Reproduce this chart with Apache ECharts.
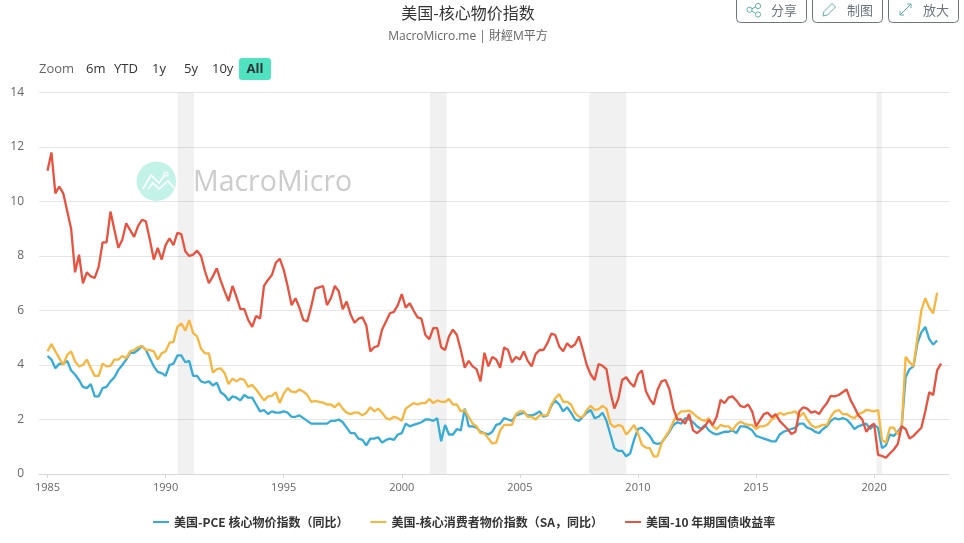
<!DOCTYPE html>
<html>
<head>
    <meta charset="utf-8">
    <title>美国-核心物价指数</title>
    <script src="https://cdn.jsdelivr.net/npm/echarts@6/dist/echarts.min.js"></script>
    <style>
        html, body { margin: 0; padding: 0; background: #fff; overflow: hidden; }
    </style>
</head>
<body>
    <div id="main" style="width: 964px;height:543px;"></div>
    <script type="text/javascript">
        // 每两个月一个点，从 1985-01 开始
        const startYear = 1985
        const stepMonths = 2

        const seriesNames = ['美国-PCE 核心物价指数（同比）', '美国-核心消费者物价指数（SA，同比）', '美国-10 年期国债收益率']
        const rangeLabels = ['Zoom', '6m', 'YTD', '1y', '5y', '10y', 'All']
        const yearTicks = [1985, 1990, 1995, 2000, 2005, 2010, 2015, 2020]
        const yTicks = [0, 2, 4, 6, 8, 10, 12, 14]

        // 衰退区间（年份小数）
        const recessions = [
            [1990.51, 1991.2],
            [2001.19, 2001.9],
            [2007.93, 2009.5],
            [2020.1, 2020.33]
        ]

        const pce = [
            4.33, 4.2, 3.88, 4.05, 4.04, 4.15,
            3.8, 3.65, 3.45, 3.2, 3.15, 3.3,
            2.85, 2.85, 3.15, 3.2, 3.4, 3.55,
            3.82, 4.0, 4.2, 4.45, 4.45, 4.55,
            4.7, 4.55, 4.25, 3.95, 3.75, 3.7,
            3.6, 4.0, 4.05, 4.35, 4.35, 4.1,
            4.15, 3.6, 3.6, 3.4, 3.35, 3.4,
            3.25, 3.35, 3.0, 2.9, 2.7, 2.85,
            2.8, 2.7, 2.9, 2.8, 2.8, 2.55,
            2.3, 2.35, 2.2, 2.3, 2.25, 2.25,
            2.3, 2.25, 2.1, 2.1, 2.15, 2.05,
            1.95, 1.85, 1.85, 1.85, 1.85, 1.85,
            1.95, 1.95, 2.0, 1.9, 1.7, 1.5,
            1.5, 1.3, 1.25, 1.05, 1.3, 1.3,
            1.35, 1.15, 1.25, 1.3, 1.25, 1.45,
            1.5, 1.85, 1.75, 1.8, 1.85, 1.9,
            2.0, 2.0, 1.95, 2.05, 1.2, 1.8,
            1.45, 1.45, 1.65, 1.6, 2.4, 1.75,
            1.75, 1.7, 1.55, 1.5, 1.45, 1.55,
            1.8, 1.85, 2.05, 2.0, 1.95, 2.15,
            2.2, 2.25, 2.15, 2.15, 2.2, 2.3,
            2.1, 2.15, 2.5, 2.7, 2.55, 2.3,
            2.45, 2.25, 2.0, 1.95, 2.1, 2.25,
            2.35, 2.05, 2.1, 2.25, 1.95, 1.45,
            0.95, 0.85, 0.85, 0.65, 0.75, 1.25,
            1.65, 1.7, 1.55, 1.4, 1.15, 1.1,
            1.15, 1.35, 1.55, 1.8, 1.9, 1.85,
            2.05, 2.0, 1.9, 1.75, 1.65, 1.8,
            1.6, 1.5, 1.45, 1.5, 1.55, 1.55,
            1.6, 1.5, 1.75, 1.75, 1.7, 1.6,
            1.4, 1.35, 1.3, 1.25, 1.2, 1.2,
            1.45, 1.55, 1.6, 1.65, 1.7, 1.85,
            1.85, 1.7, 1.65, 1.55, 1.5, 1.65,
            1.75, 1.95, 2.05, 2.0, 2.05, 2.0,
            1.85, 1.65, 1.75, 1.8, 1.85, 1.65,
            1.8, 1.7, 0.95, 1.05, 1.45, 1.4,
            1.55, 1.75, 3.55, 3.85, 3.95, 4.8,
            5.2, 5.4, 4.95, 4.75, 4.9
        ]

        const cpi = [
            4.5, 4.77, 4.5, 4.25, 4.0, 4.37,
            4.5, 4.13, 3.95, 4.0, 4.2, 3.88,
            3.6, 3.6, 4.05, 3.95, 3.97, 4.2,
            4.2, 4.33, 4.25, 4.5, 4.55, 4.65,
            4.7, 4.55, 4.55, 4.5, 4.2, 4.43,
            4.5, 4.82, 4.85, 5.4, 5.53, 5.26,
            5.65, 5.17, 5.05, 4.6, 4.43, 4.43,
            3.72, 3.85, 3.88, 3.7, 3.3, 3.5,
            3.4, 3.5, 3.45, 3.2, 3.27, 3.1,
            2.9, 2.7, 2.85, 2.87, 3.0, 2.6,
            2.95, 3.15, 3.02, 3.0, 3.1, 3.02,
            2.9, 2.65, 2.68, 2.65, 2.62, 2.55,
            2.55, 2.45, 2.6, 2.4, 2.25, 2.2,
            2.25, 2.25, 2.15, 2.25, 2.45, 2.3,
            2.4, 2.25, 2.05, 2.0, 2.1, 2.05,
            1.95, 2.4, 2.5, 2.6, 2.55, 2.6,
            2.6, 2.75, 2.6, 2.7, 2.65, 2.65,
            2.75, 2.55, 2.55, 2.3, 2.35, 2.1,
            1.85, 1.75, 1.5, 1.5, 1.3, 1.12,
            1.15, 1.6, 1.8, 1.8, 1.8, 2.2,
            2.3, 2.3, 2.1, 2.1, 2.0, 2.15,
            2.15, 2.15, 2.55, 2.78, 2.93, 2.65,
            2.65, 2.55, 2.25, 2.1, 2.1, 2.35,
            2.5, 2.35, 2.38, 2.5, 2.4, 1.85,
            1.72, 1.8, 1.75, 1.45, 1.6, 1.8,
            1.5, 1.07, 0.97, 0.95, 0.64, 0.66,
            1.13, 1.37, 1.6, 1.92, 2.17, 2.3,
            2.3, 2.33, 2.23, 2.1, 2.0, 1.95,
            2.05, 1.75, 1.65, 1.8, 1.75, 1.75,
            1.6, 1.8, 1.92, 1.85, 1.8, 1.8,
            1.65, 1.75, 1.75, 1.83, 2.0, 2.1,
            2.25, 2.17, 2.23, 2.25, 2.3, 2.1,
            2.25, 2.0, 1.8, 1.7, 1.75, 1.8,
            1.8, 2.1, 2.3, 2.35, 2.2, 2.2,
            2.1, 2.05, 2.2, 2.25, 2.35, 2.33,
            2.3, 2.35, 1.25, 1.15, 1.7, 1.7,
            1.45, 1.7, 4.3, 4.1, 3.95, 5.0,
            6.0, 6.45, 6.1, 5.9, 6.65
        ]

        const treasury = [
            11.13, 11.8, 10.3, 10.55, 10.3, 9.65,
            9.0, 7.4, 8.05, 7.0, 7.4, 7.25,
            7.2, 7.6, 8.5, 8.5, 9.63, 8.95,
            8.3, 8.6, 9.2, 8.95, 8.7, 9.1,
            9.33, 9.27, 8.6, 7.87, 8.3, 7.87,
            8.4, 8.65, 8.4, 8.85, 8.8, 8.17,
            8.0, 8.05, 8.2, 8.0, 7.45, 7.0,
            7.25, 7.55, 7.1, 6.7, 6.35, 6.9,
            6.5, 6.05, 6.05, 5.65, 5.4, 5.8,
            5.7, 6.9, 7.12, 7.3, 7.75, 7.9,
            7.5, 6.9, 6.2, 6.45, 6.1, 5.65,
            5.6, 6.15, 6.8, 6.85, 6.9, 6.2,
            6.45, 6.9, 6.7, 6.05, 6.33, 5.85,
            5.55, 5.7, 5.75, 5.45, 4.5, 4.65,
            4.7, 5.3, 5.6, 5.9, 5.95, 6.2,
            6.6, 6.1, 6.27, 6.0, 5.75, 5.7,
            5.1, 4.95, 5.35, 5.35, 4.65, 4.55,
            5.05, 5.3, 5.1, 4.55, 3.9, 4.15,
            3.95, 3.85, 3.4, 4.45, 3.95, 4.3,
            4.2, 3.9, 4.64, 4.55, 4.1, 4.3,
            4.2, 4.5, 4.15, 3.95, 4.4, 4.55,
            4.55, 4.8, 5.15, 5.1, 4.68, 4.5,
            4.8, 4.65, 4.75, 5.05, 4.55, 4.0,
            3.65, 3.45, 4.04, 3.97, 3.85, 3.0,
            2.4, 2.75, 3.45, 3.55, 3.35, 3.2,
            3.65, 3.8, 3.05, 2.75, 2.55, 3.1,
            3.4, 3.45, 3.1, 2.4, 2.0, 2.0,
            1.85, 2.2, 1.6, 1.5, 1.62, 1.75,
            1.98, 1.8, 2.1, 2.72, 2.6, 2.8,
            2.85, 2.7, 2.5, 2.45, 2.55, 2.3,
            1.75, 1.98, 2.2, 2.25, 2.08, 2.2,
            1.95, 1.8, 1.65, 1.47, 1.55, 2.3,
            2.45, 2.4, 2.25, 2.3, 2.2, 2.42,
            2.6, 2.87, 2.85, 2.9, 3.0, 3.1,
            2.72, 2.45, 2.15, 2.0, 1.55, 1.75,
            1.85, 0.7, 0.66, 0.6, 0.75, 0.9,
            1.1, 1.75, 1.65, 1.3, 1.4, 1.55,
            1.7, 2.3, 3.0, 2.9, 3.8, 4.05
        ]

        function toPairs(values) {
            return values.map(function (v, i) {
                return [startYear + i * stepMonths / 12, v]
            })
        }

        let myChart = echarts.init(document.getElementById('main'));

        const fontLatin = '"Open Sans", sans-serif'
        const fontCjk = '"Noto Sans CJK SC", sans-serif'

        // 顶部范围按钮的位置
        const rangeX = [39, 86, 114, 152, 184, 212, 255]
        const rangeGraphic = rangeLabels.map(function (t, i) {
            let isAll = t === 'All'
            return {
                type: 'text', x: rangeX[i], y: 69, z: 5,
                style: {
                    text: t,
                    fill: i === 0 ? '#666666' : '#333333',
                    font: (isAll ? 'bold ' : '') + '13px ' + fontLatin,
                    textAlign: isAll ? 'center' : 'left',
                    textVerticalAlign: 'middle'
                }
            }
        })

        function toolButton(x, w, label) {
            return [
                {
                    type: 'rect', z: 5,
                    shape: { x: x + 0.5, y: -6.5, width: w, height: 29, r: 4 },
                    style: { fill: '#fff', stroke: '#6c757d', lineWidth: 1 }
                },
                {
                    type: 'text', x: x + 35, y: 10, z: 6,
                    style: { text: label, fill: '#6c757d', font: '13px ' + fontCjk, textVerticalAlign: 'middle' }
                }
            ]
        }

        const iconColor = '#5fb3a8'
        const iconStyle = { stroke: iconColor, fill: 'none', lineWidth: 1 }

        let option = {
            animation: false,
            color: ['#35acd8', '#f7b63e', '#e8523e'],
            title: {
                text: '美国-核心物价指数',
                subtext: 'MacroMicro.me | 財經M平方',
                left: 463,
                textAlign: 'center',
                top: 0,
                itemGap: 10,
                textStyle: { fontSize: 16, fontWeight: 'normal', color: '#333333', fontFamily: fontCjk },
                subtextStyle: { fontSize: 12, color: '#666666', fontFamily: '"Open Sans", "Noto Sans CJK TC", sans-serif' }
            },
            legend: {
                left: 148,
                top: 511,
                itemWidth: 16,
                itemHeight: 2,
                itemGap: 22,
                icon: 'rect',
                textStyle: { fontSize: 12, fontWeight: 'bold', color: '#333333', fontFamily: fontCjk },
                data: seriesNames
            },
            grid: { left: 39, right: 15, top: 92.5, bottom: 69, outerBoundsMode: 'none' },
            xAxis: {
                type: 'value',
                min: 1984.64,
                max: 2023.17,
                splitLine: { show: false },
                axisLine: { onZero: false, lineStyle: { color: '#d8d8d8', width: 1 } },
                axisTick: {
                    show: true, length: 4, lineStyle: { color: '#d8d8d8' },
                    customValues: yearTicks
                },
                axisLabel: {
                    color: '#666666', fontSize: 11, fontFamily: fontLatin, margin: 8,
                    customValues: yearTicks,
                    formatter: function (v) { return String(v) }
                }
            },
            yAxis: {
                type: 'value',
                min: yTicks[0],
                max: yTicks[yTicks.length - 1],
                interval: 2,
                name: 'Percent',
                nameLocation: 'middle',
                nameGap: 26,
                nameTextStyle: { color: '#4d4a86', fontSize: 11, fontFamily: fontLatin },
                splitLine: { lineStyle: { color: '#e6e6e6', width: 1 } },
                axisLine: { show: false },
                axisTick: { show: false },
                axisLabel: { color: '#666666', fontSize: 12, fontFamily: fontLatin, margin: 15 }
            },
            graphic: [
                // 水印
                { type: 'circle', z: 0, shape: { cx: 156.3, cy: 181.3, r: 19.7 }, style: { fill: '#c3f3e8' } },
                { type: 'polyline', z: 1, shape: { points: [[143, 189], [151, 175], [159, 183], [165, 175]] }, style: { stroke: '#fff', fill: 'none', lineWidth: 1.6 } },
                { type: 'polyline', z: 1, shape: { points: [[148, 189], [153, 183], [159, 189], [168, 181], [174, 188]] }, style: { stroke: '#fff', fill: 'none', lineWidth: 1.6 } },
                { type: 'circle', z: 1, shape: { cx: 166, cy: 174, r: 2 }, style: { stroke: '#fff', fill: 'none', lineWidth: 1.2 } },
                {
                    type: 'text', x: 193, y: 183, z: 1,
                    style: { text: 'MacroMicro', fill: '#cccccc', font: '28.5px ' + fontLatin, textVerticalAlign: 'middle' }
                },
                // All 按钮底色
                { type: 'rect', z: 4, shape: { x: 239, y: 58, width: 32, height: 22, r: 3 }, style: { fill: '#4fe3c1' } }
            ].concat(rangeGraphic)
                .concat(toolButton(736, 70, '分享'))
                .concat(toolButton(812, 70, '制图'))
                .concat(toolButton(888, 70, '放大'))
                .concat([
                    // 分享图标
                    { type: 'circle', z: 6, shape: { cx: 758, cy: 6, r: 2.6 }, style: iconStyle },
                    { type: 'circle', z: 6, shape: { cx: 749.5, cy: 9.8, r: 2.6 }, style: iconStyle },
                    { type: 'circle', z: 6, shape: { cx: 758, cy: 14.5, r: 2.6 }, style: iconStyle },
                    { type: 'polyline', z: 6, shape: { points: [[755.7, 7], [751.8, 8.8]] }, style: iconStyle },
                    { type: 'polyline', z: 6, shape: { points: [[751.8, 11], [755.7, 13.3]] }, style: iconStyle },
                    // 铅笔图标
                    { type: 'polygon', z: 6, shape: { points: [[823, 16], [824, 11.5], [832, 3.5], [835.5, 7], [827.5, 15]] }, style: iconStyle },
                    // 放大图标
                    { type: 'polyline', z: 6, shape: { points: [[900, 15], [911, 4]] }, style: iconStyle },
                    { type: 'polyline', z: 6, shape: { points: [[907, 4], [911, 4], [911, 8]] }, style: iconStyle },
                    { type: 'polyline', z: 6, shape: { points: [[900, 11], [900, 15], [904, 15]] }, style: iconStyle }
                ]),
            series: [
                {
                    name: seriesNames[0], type: 'line', showSymbol: false, z: 2,
                    lineStyle: { width: 2.3 }, data: toPairs(pce),
                    markArea: {
                        silent: true,
                        itemStyle: { color: 'rgba(0,0,0,0.055)' },
                        data: recessions.map(function (r) {
                            return [{ xAxis: r[0] }, { xAxis: r[1] }]
                        })
                    }
                },
                { name: seriesNames[1], type: 'line', showSymbol: false, z: 3, lineStyle: { width: 2.3 }, data: toPairs(cpi) },
                { name: seriesNames[2], type: 'line', showSymbol: false, z: 4, lineStyle: { width: 2.3 }, data: toPairs(treasury) }
            ]
        };

        myChart.setOption(option);
    </script>
</body>
</html>
